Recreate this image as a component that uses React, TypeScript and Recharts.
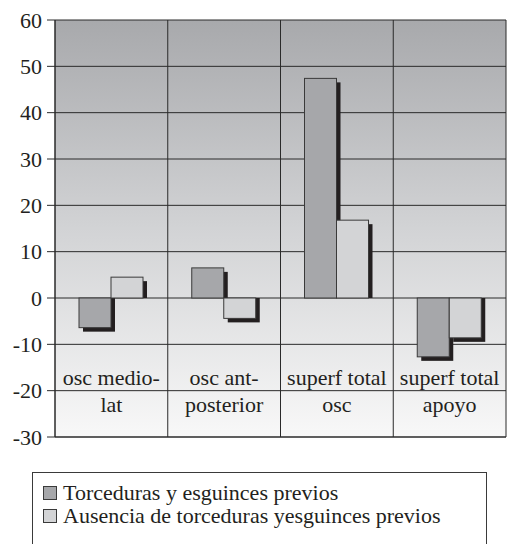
import React from "react";

import { Bar, BarChart, CartesianGrid, XAxis, YAxis } from "recharts";


const categories = ["osc medio-lat", "osc ant-posterior", "superf total osc", "superf total apoyo"];
const categoryLines = [["osc medio-", "lat"], ["osc ant-", "posterior"], ["superf total", "osc"], ["superf total", "apoyo"]];
const previousSprains = [-6.4, 6.5, 47.4, -12.7];
const noPreviousSprains = [4.5, -4.4, 16.8, -8.6];
const yTicks = [-30, -20, -10, 0, 10, 20, 30, 40, 50, 60];
const seriesNames = ["Torceduras y esguinces previos", "Ausencia de torceduras yesguinces previos"];

const FONT = "Liberation Serif";
const DARK = "#a6a7aa";
const LIGHT = "#d3d4d6";

// force the serif face everywhere inside the chart box
const fontCss = `
html body #root #chartBox, html body #root #chartBox *, html body #root #chartBox svg text,
html body #root #chartBox .recharts-text, html body #root #chartBox tspan {
  font-family: "Liberation Serif", "Times New Roman", serif !important;
}
`;


const ShadowBar = (props) => {
  const { x, y, width, height, fill, value } = props;
  const top = Math.min(y, y + height);
  const h = Math.abs(height);
  const v = Array.isArray(value) ? value[1] : value;
  const negative = v < 0;
  return (
    <g>
      {negative
        ? <rect x={x + 4} y={top} width={width} height={h + 4} fill="#231f20" />
        : <rect x={x + 4} y={top + 4} width={width} height={Math.max(h - 4, 0)} fill="#231f20" />}
      <rect x={x} y={top} width={width} height={h} fill={fill} stroke="#3a3a3a" strokeWidth={1} />
    </g>
  );
};


const CategoryTick = (props) => {
  const { x, y, index } = props;
  const lines = categoryLines[index] || [];
  return (
    <g>
      {lines.map((line, i) => (
        <text key={i} x={x} y={y - 52 + i * 27} textAnchor="middle" fontFamily={FONT} fontSize={22} fill="#231f20">
          {line}
        </text>
      ))}
    </g>
  );
};


const LegendBox = () => (
  <div style={{
    position: "absolute", left: 32, top: 472,
    border: "1px solid #3a3a3a", width: 455, height: 90, boxSizing: "border-box",
    padding: "8px 0 0 10px", fontFamily: '"Liberation Serif"', fontSize: 22, color: "#231f20",
    lineHeight: "23px", background: "#fff"
  }}>
    {seriesNames.map((name, i) => (
      <div key={name} style={{ display: "flex", alignItems: "center", whiteSpace: "nowrap" }}>
        <span style={{
          display: "inline-block", width: 14, height: 14, border: "1px solid #3a3a3a",
          background: i === 0 ? DARK : LIGHT, marginRight: 6, boxSizing: "border-box", flexShrink: 0
        }} />
        <span>{name}</span>
      </div>
    ))}
  </div>
);


export default function App() {
  const data = categories.map((name, i) => ({
    name,
    a: previousSprains[i],
    b: noPreviousSprains[i]
  }));

  return (
    <div id="chartBox" style={{
      position: "absolute", left: 0, top: 0, width: 507, height: 544, overflow: "hidden",
      background: "#fff", fontFamily: '"Liberation Serif"'
    }}>
      <style>{fontCss}</style>
      <svg width={0} height={0} style={{ position: "absolute" }}>
        <defs>
          <linearGradient id="plotBg" x1="0" y1="0" x2="0" y2="1">
            <stop offset="0%" stopColor="#a8a9ac" />
            <stop offset="50%" stopColor="#d2d3d5" />
            <stop offset="100%" stopColor="#f8f8f8" />
          </linearGradient>
        </defs>
      </svg>
      <BarChart
        width={507}
        height={544}
        data={data}
        margin={{ top: 20, right: 1, left: 0, bottom: 0 }}
        barSize={32}
        barGap={0}
      >
        <CartesianGrid
          fill="url(#plotBg)"
          stroke="#2a2a2a"
          strokeOpacity={1}
          verticalCoordinatesGenerator={({ offset }) =>
            [0, 1, 2, 3, 4].map((i) => offset.left + (i * offset.width) / 4)}
        />
        <XAxis
          dataKey="name"
          height={107}
          axisLine={{ stroke: "#2a2a2a" }}
          tickLine={false}
          tickSize={0}
          tickMargin={0}
          interval={0}
          tick={<CategoryTick />}
        />
        <YAxis
          width={55}
          domain={[-30, 60]}
          ticks={yTicks}
          interval={0}
          axisLine={{ stroke: "#2a2a2a" }}
          tickLine={{ stroke: "#2a2a2a" }}
          tickSize={8}
          tickMargin={5}
          tick={{ fontFamily: FONT, fontSize: 22, fill: "#231f20" }}
        />
        <Bar dataKey="a" name={seriesNames[0]} fill={DARK} isAnimationActive={false} shape={<ShadowBar />} />
        <Bar dataKey="b" name={seriesNames[1]} fill={LIGHT} isAnimationActive={false} shape={<ShadowBar />} />
      </BarChart>
      <LegendBox />
    </div>
  );
}
